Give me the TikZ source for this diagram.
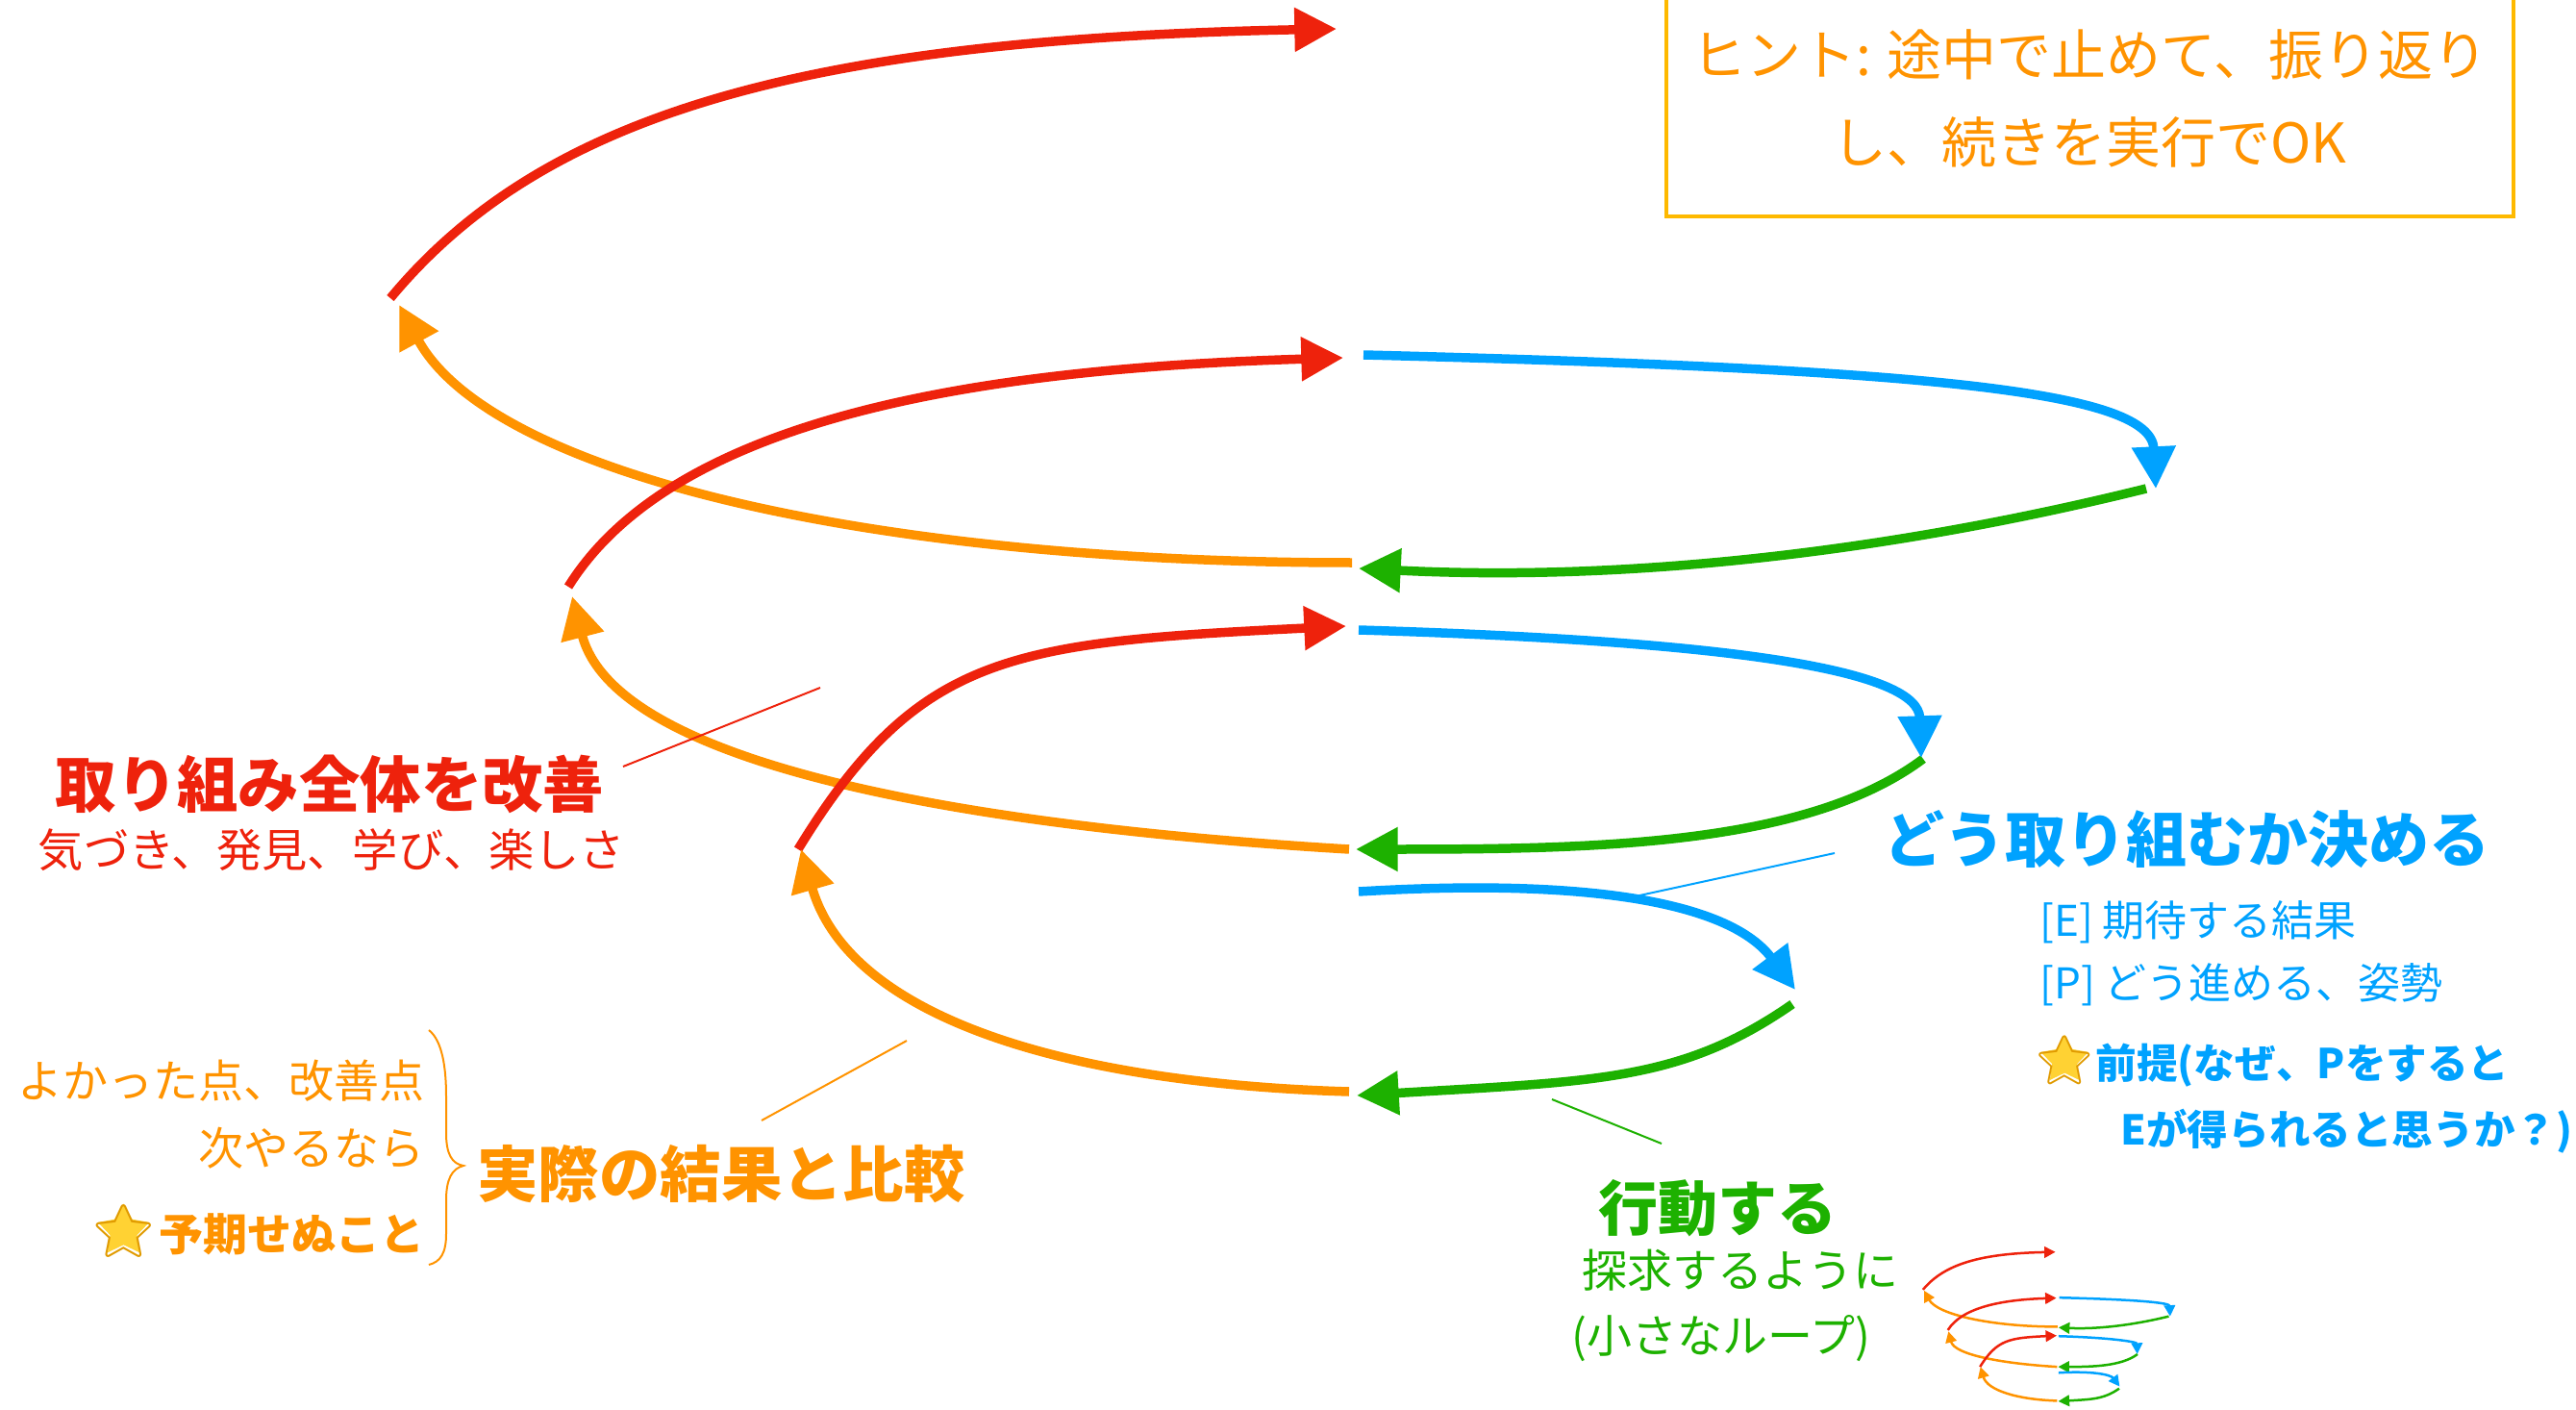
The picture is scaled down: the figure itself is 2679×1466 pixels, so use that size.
\documentclass[tikz,border=0pt]{standalone}
\usepackage{fontspec}
\setmainfont{Noto Sans CJK JP}
\newfontfamily\emojifont{Noto Emoji}
\usetikzlibrary{arrows.meta,shapes.geometric,backgrounds}
\definecolor{kred}{HTML}{EE220C}
\definecolor{korange}{HTML}{FF9300}
\definecolor{kblue}{HTML}{00A2FF}
\definecolor{kgreen}{HTML}{1DB100}
\definecolor{kyellow}{HTML}{FEB900}
\definecolor{kstar}{HTML}{FFD233}
\definecolor{kstardk}{HTML}{E09A00}
\newcommand\fsz[1]{\fontsize{#1}{#1}\selectfont}
\tikzset{
  sparrow/.style={-{Triangle[length=0pt 4.6,width=0pt 4.6]}},
  lbl/.style={inner sep=0pt},
  leader/.style={line width=1pt},
  staricon/.style={lbl,text=kstardk,font=\fsz{#1}\emojifont},
  starfill/.style={star,star points=5,star point ratio=1.9,fill=kstar,inner sep=0pt,minimum size=#1},
}
\newcommand\myspiral[1]{%
\begin{scope}[line width=#1]
 \draw[sparrow,kred]    (406,310) .. controls (566,117) and (840,41) .. (1390,30);
 \draw[sparrow,korange] (1406,585) .. controls (906,585) and (511,493) .. (415,317);
 \draw[sparrow,kgreen]  (2232,508) .. controls (1990,568) and (1713,606) .. (1413,591);
 \draw[sparrow,kblue]   (1418,369) .. controls (2018,384) and (2237,408) .. (2242,508);
 \draw[sparrow,kred]    (591,610) .. controls (697,440) and (997,384) .. (1397,372);
 \draw[sparrow,korange] (1403,883) .. controls (1003,859) and (640,795) .. (595,620);
 \draw[sparrow,kgreen]  (2000,789) .. controls (1880,879) and (1660,883) .. (1410,883);
 \draw[sparrow,kblue]   (1413,655) .. controls (1813,667) and (1995,698) .. (1998,788);
 \draw[sparrow,kred]    (830,883) .. controls (955,679) and (1050,668) .. (1400,651);
 \draw[sparrow,kblue]   (1413,927) .. controls (1663,912) and (1801,941) .. (1867,1029);
 \draw[sparrow,kgreen]  (1864,1044) .. controls (1749,1124) and (1661,1124) .. (1411,1139);
 \draw[sparrow,korange] (1403,1135) .. controls (1103,1126) and (883,1056) .. (833,883);
\end{scope}}
\begin{document}
\begin{tikzpicture}[x=0.5pt,y=-0.5pt]
\useasboundingbox (0,0) rectangle (2679,1466);
% main spiral
\myspiral{4.75pt}
% small loop
\begin{scope}[shift={(1943,1297.5)},scale=0.14]
\myspiral{1.25pt}
\end{scope}
% hint box
\draw[kyellow,line width=2pt] (1733,0) -- (1733,225) -- (2614,225) -- (2614,0);
\node[lbl,anchor=base,text=korange,font=\fsz{28.5pt}] (hint1) at (2173,79) {ヒント: 途中で止めて、振り返り};
\node[lbl,anchor=base,text=korange,font=\fsz{28.5pt}] (hint2) at (2173,170) {し、続きを実行でOK};
% red labels
\node[lbl,anchor=base,text=kred,font=\fsz{31.7pt}\bfseries] (redtitle) at (343,839) {取り組み全体を改善};
\node[lbl,anchor=base,text=kred,font=\fsz{23.6pt}] (redsub) at (345,901) {気づき、発見、学び、楽しさ};
\coordinate (rl1) at (648,797); \coordinate (rl2) at (853,715);
\draw[kred,leader] (rl1) -- (rl2);
% orange labels
\node[lbl,anchor=base east,text=korange,font=\fsz{23.5pt}] (or1) at (442,1141) {よかった点、改善点};
\node[lbl,anchor=base east,text=korange,font=\fsz{23.5pt}] (or2) at (442,1211) {次やるなら};
\node[lbl,anchor=base east,text=korange,font=\fsz{23pt}\bfseries] (or3) at (442,1300) {予期せぬこと};
\node[staricon=27pt,anchor=base east] (or3star) at ([xshift=-1pt,yshift=1pt]or3.base west) {⭐};
\begin{pgfonlayer}{background}
\node[starfill=28pt] (or3starbg) at (or3star.center) {};
\end{pgfonlayer}
\draw[korange,line width=1pt] (446,1071) .. controls (460,1082) and (464,1110) .. (464,1140) -- (464,1178) .. controls (464,1200) and (470,1210) .. (482,1212) .. controls (470,1215) and (464,1226) .. (464,1248) -- (464,1283) .. controls (464,1303) and (458,1312) .. (446,1315);
\node[lbl,anchor=base,text=korange,font=\fsz{31.7pt}\bfseries] (ortitle) at (750,1244) {実際の結果と比較};
\coordinate (ol1) at (792,1165); \coordinate (ol2) at (943,1082);
\draw[korange,leader] (ol1) -- (ol2);
% blue labels
\node[lbl,anchor=base,text=kblue,font=\fsz{31.5pt}\bfseries] (bltitle) at (2274,896) {どう取り組むか決める};
\node[lbl,anchor=base west,text=kblue,font=\fsz{22pt}] (bl1) at (2121,973) {[E] 期待する結果};
\node[lbl,anchor=base west,text=kblue,font=\fsz{22pt}] (bl2) at (2121,1038) {[P] どう進める、姿勢};
\node[staricon=25pt,anchor=base west] (bl3star) at (2115,1119) {⭐};
\begin{pgfonlayer}{background}
\node[starfill=26pt] (bl3starbg) at (bl3star.center) {};
\end{pgfonlayer}
\node[lbl,anchor=base west,text=kblue,font=\fsz{21.3pt}\bfseries] (bl3) at ([yshift=-1pt]bl3star.base east) {前提(なぜ、Pをすると};
\node[lbl,anchor=base west,text=kblue,font=\fsz{21.3pt}\bfseries] (bl4) at (2205,1190) {Eが得られると思うか？)};
\coordinate (bll1) at (1696,933); \coordinate (bll2) at (1908,887);
\draw[kblue,leader] (bll1) -- (bll2);
% green labels
\node[lbl,anchor=base,text=kgreen,font=\fsz{31pt}\bfseries] (grtitle) at (1786,1279) {行動する};
\node[lbl,anchor=base,text=kgreen,font=\fsz{23.5pt}] (gr1) at (1810,1338) {探求するように};
\node[lbl,anchor=base,text=kgreen,font=\fsz{23.5pt}] (gr2) at (1790,1406) {(小さなループ)};
\coordinate (gl1) at (1614,1143); \coordinate (gl2) at (1728,1189);
\draw[kgreen,leader] (gl1) -- (gl2);
\end{tikzpicture}
\end{document}
